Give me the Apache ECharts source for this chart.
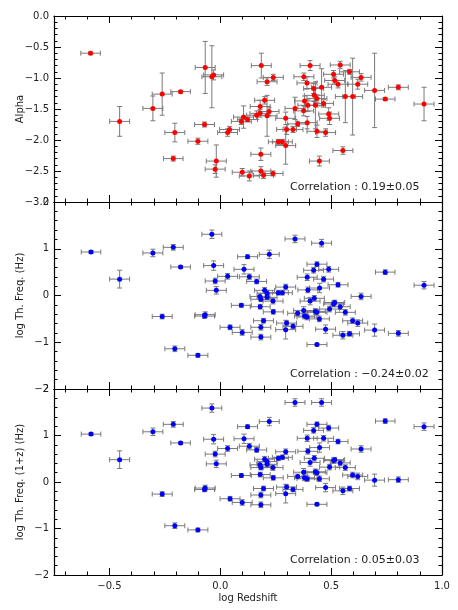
<!DOCTYPE html>
<html>
<head>
<meta charset="utf-8">
<script src="https://cdn.jsdelivr.net/npm/echarts@6/dist/echarts.min.js"></script>
<style>
    html, body { margin: 0; padding: 0; background: #fff; }
    #chart { width: 458px; height: 610px; }
</style>
</head>
<body>
<div id="chart"></div>
<script>
// log redshift of the objects in the alpha panel
const zAlpha = [-0.585, -0.454, -0.304, -0.262, -0.179, -0.205, -0.212, -0.101, -0.068, -0.071,
    -0.038, -0.030, -0.018, -0.023, 0.042, 0.033, 0.095, 0.105, 0.123, 0.099,
    0.131, 0.164, 0.180, 0.179, 0.200, 0.185, 0.211, 0.239, 0.220, 0.211,
    0.183, 0.183, 0.195, 0.238, 0.262, 0.280, 0.295, 0.295, 0.299, 0.328,
    0.337, 0.349, 0.376, 0.380, 0.377, 0.391, 0.405, 0.395, 0.392, 0.421,
    0.424, 0.436, 0.429, 0.436, 0.447, 0.457, 0.466, 0.489, 0.493, 0.475,
    0.511, 0.516, 0.531, 0.541, 0.564, 0.583, 0.553, 0.597, 0.620, 0.635,
    0.696, 0.744, 0.803, 0.919]
const alpha = [-0.60, -1.70, -1.49, -1.26, -1.22, -1.88, -2.30, -2.02, -0.83, -1.75,
    -0.98, -0.95, -2.34, -2.47, -1.83, -1.88, -1.70, -1.63, -1.67, -2.52,
    -2.58, -1.60, -1.46, -1.57, -1.36, -0.80, -1.06, -0.99, -1.54, -1.61,
    -2.23, -2.50, -2.57, -2.54, -2.03, -2.03, -2.09, -1.65, -1.83, -1.83,
    -1.49, -1.74, -1.53, -1.37, -0.98, -1.08, -0.80, -1.44, -1.72, -1.17,
    -1.28, -1.33, -1.44, -1.86, -2.34, -1.15, -1.41, -1.58, -1.65, -1.88,
    -0.94, -1.04, -1.10, -0.79, -1.30, -0.90, -2.17, -1.30, -1.10, -0.99,
    -1.20, -1.34, -1.15, -1.42]
const alphaErr = [0.02, 0.24, 0.20, 0.34, 0.02, 0.15, 0.04, 0.05, 0.42, 0.04,
    0.50, 0.08, 0.26, 0.07, 0.05, 0.06, 0.05, 0.18, 0.04, 0.06,
    0.08, 0.07, 0.10, 0.06, 0.06, 0.20, 0.06, 0.05, 0.07, 0.33,
    0.10, 0.07, 0.05, 0.04, 0.04, 0.04, 0.30, 0.10, 0.08, 0.05,
    0.18, 0.04, 0.08, 0.08, 0.06, 0.10, 0.08, 0.10, 0.10, 0.08,
    0.10, 0.06, 0.38, 0.10, 0.08, 0.30, 0.06, 0.10, 0.10, 0.06,
    0.06, 0.06, 0.06, 0.06, 0.42, 0.04, 0.06, 0.62, 0.08, 0.06,
    0.60, 0.02, 0.04, 0.27]
const zAlphaErr = [0.044, 0.045, 0.045, 0.045, 0.044, 0.045, 0.044, 0.045, 0.045, 0.045,
    0.045, 0.045, 0.045, 0.045, 0.045, 0.045, 0.045, 0.045, 0.045, 0.045,
    0.045, 0.045, 0.045, 0.045, 0.045, 0.045, 0.045, 0.045, 0.045, 0.045,
    0.045, 0.045, 0.045, 0.045, 0.045, 0.045, 0.045, 0.045, 0.045, 0.045,
    0.045, 0.045, 0.045, 0.045, 0.045, 0.045, 0.045, 0.045, 0.045, 0.045,
    0.045, 0.045, 0.045, 0.045, 0.045, 0.045, 0.045, 0.045, 0.045, 0.045,
    0.045, 0.045, 0.045, 0.045, 0.045, 0.045, 0.045, 0.045, 0.045, 0.045,
    0.045, 0.044, 0.045, 0.045]

// log redshift of the objects in the two frequency panels
const zFreq = [-0.583, -0.454, -0.304, -0.212, -0.179, -0.262, -0.205, -0.101, -0.038, -0.030,
    -0.023, -0.018, -0.068, -0.071, 0.033, 0.044, 0.099, 0.095, 0.107, 0.123,
    0.131, 0.164, 0.179, 0.183, 0.180, 0.183, 0.183, 0.195, 0.200, 0.211,
    0.211, 0.221, 0.238, 0.239, 0.262, 0.280, 0.295, 0.299, 0.295, 0.328,
    0.337, 0.349, 0.376, 0.380, 0.391, 0.392, 0.395, 0.405, 0.421, 0.424,
    0.429, 0.436, 0.436, 0.447, 0.436, 0.457, 0.448, 0.466, 0.489, 0.475,
    0.493, 0.511, 0.516, 0.531, 0.541, 0.553, 0.564, 0.583, 0.597, 0.620,
    0.635, 0.696, 0.744, 0.803, 0.919]
const zFreqErr = [0.044, 0.045, 0.045, 0.045, 0.044, 0.045, 0.045, 0.045, 0.045, 0.045,
    0.045, 0.045, 0.045, 0.045, 0.045, 0.045, 0.045, 0.045, 0.045, 0.045,
    0.045, 0.045, 0.045, 0.045, 0.045, 0.045, 0.045, 0.045, 0.045, 0.045,
    0.045, 0.045, 0.045, 0.045, 0.045, 0.045, 0.045, 0.045, 0.045, 0.045,
    0.045, 0.045, 0.045, 0.045, 0.045, 0.045, 0.045, 0.045, 0.045, 0.045,
    0.045, 0.045, 0.045, 0.045, 0.045, 0.045, 0.045, 0.045, 0.045, 0.045,
    0.045, 0.045, 0.045, 0.045, 0.045, 0.045, 0.045, 0.045, 0.045, 0.045,
    0.045, 0.045, 0.044, 0.045, 0.045]
const freq = [0.93, 0.35, 0.91, 1.03, 0.61, -0.45, -1.14, -1.28, 1.31, 0.64,
    0.31, 0.11, -0.41, -0.44, 0.41, -0.68, -0.79, -0.21, 0.56, 0.83,
    0.40, 0.30, -0.02, -0.08, -0.24, -0.68, -0.89, -0.54, 0.11, 0.05,
    -0.04, 0.88, -0.12, -0.35, 0.06, 0.06, 0.18, -0.59, -0.73, -0.66,
    1.21, -0.38, -0.32, -0.44, -0.46, 0.39, 0.12, -0.12, 0.54, -0.06,
    -0.34, 0.67, -0.36, -0.50, -1.05, 1.12, 0.16, 0.35, 0.56, -0.72,
    -0.29, -0.18, -0.15, 0.23, -0.24, -0.85, -0.36, -0.82, -0.54, -0.59,
    -0.02, -0.74, 0.50, -0.81, 0.22]
const freqZ = [1.03, 0.48, 1.08, 1.24, 0.84, -0.26, -0.94, -1.03, 1.59, 0.92,
    0.60, 0.39, -0.13, -0.16, 0.72, -0.36, -0.44, 0.14, 0.93, 1.19,
    0.77, 0.69, 0.37, 0.31, 0.16, -0.28, -0.49, -0.14, 0.49, 0.44,
    0.38, 1.30, 0.31, 0.09, 0.51, 0.53, 0.65, -0.11, -0.25, -0.16,
    1.71, 0.12, 0.21, 0.09, 0.07, 0.94, 0.66, 0.42, 1.11, 0.51,
    0.22, 1.24, 0.20, 0.07, -0.48, 1.71, 0.74, 0.94, 1.16, -0.12,
    0.32, 0.46, 0.48, 0.87, 0.41, -0.19, 0.31, -0.14, 0.15, 0.12,
    0.71, 0.04, 1.31, 0.05, 1.19]
const freqErr = [0.03, 0.19, 0.08, 0.06, 0.03, 0.05, 0.06, 0.04, 0.09, 0.10,
    0.06, 0.08, 0.06, 0.05, 0.06, 0.05, 0.06, 0.04, 0.10, 0.04,
    0.06, 0.05, 0.06, 0.05, 0.05, 0.06, 0.06, 0.05, 0.06, 0.06,
    0.05, 0.09, 0.06, 0.05, 0.05, 0.05, 0.06, 0.05, 0.20, 0.05,
    0.08, 0.05, 0.08, 0.06, 0.06, 0.07, 0.06, 0.08, 0.06, 0.06,
    0.06, 0.05, 0.06, 0.06, 0.03, 0.08, 0.10, 0.06, 0.06, 0.09,
    0.06, 0.06, 0.05, 0.05, 0.06, 0.08, 0.06, 0.05, 0.06, 0.07,
    0.07, 0.13, 0.05, 0.06, 0.08]

const xMajorTicks = [-0.5, 0.0, 0.5, 1.0]
const xMinorTicks = [-0.7, -0.6, -0.4, -0.3, -0.2, -0.1, 0.1, 0.2, 0.3, 0.4, 0.6, 0.7, 0.8, 0.9]
const correlations = ['Correlation : 0.19±0.05', 'Correlation : −0.24±0.02', 'Correlation : 0.05±0.03']

const FONT = 'DejaVu Sans'
const INK = '#222'
const fmtNum = (v, d) => (v < 0 ? '−' : '') + Math.abs(v).toFixed(d)

// panels: top px, height px
const panels = [
    { top: 16, height: 186, min: -3, max: 0, interval: 0.5, digits: 1, name: 'Alpha' },
    { top: 202, height: 187, min: -2, max: 2, interval: 1, digits: 0, name: 'log Th. Freq. (Hz)' },
    { top: 389, height: 186, min: -2, max: 2, interval: 1, digits: 0, name: 'log Th. Freq. (1+z) (Hz)' }
]

function xAxesFor(gi, last) {
    const base = {
        gridIndex: gi,
        type: 'value',
        min: -0.75,
        max: 1.0,
        splitLine: { show: false }
    }
    const axes = []
    ;['bottom', 'top'].forEach(pos => {
        axes.push(Object.assign({}, base, {
            position: pos,
            axisLine: { show: true, onZero: false, lineStyle: { color: '#000', width: 1.2 } },
            axisTick: { show: true, inside: true, length: 7, customValues: xMajorTicks, lineStyle: { color: '#000' } },
            axisLabel: {
                show: last && pos === 'bottom',
                customValues: xMajorTicks,
                formatter: v => fmtNum(v, 1),
                color: INK, fontFamily: FONT, fontSize: 10, margin: 6
            },
            name: last && pos === 'bottom' ? 'log Redshift' : '',
            nameLocation: 'middle',
            nameGap: 18,
            nameTextStyle: { color: INK, fontFamily: FONT, fontSize: 10 }
        }))
        axes.push(Object.assign({}, base, {
            position: pos,
            axisLine: { show: false, onZero: false },
            axisTick: { show: true, inside: true, length: 3.5, customValues: xMinorTicks, lineStyle: { color: '#000' } },
            axisLabel: { show: false }
        }))
    })
    return axes
}

function yAxesFor(gi, p) {
    return ['left', 'right'].map(pos => ({
        gridIndex: gi,
        type: 'value',
        position: pos,
        min: p.min,
        max: p.max,
        interval: p.interval,
        splitLine: { show: false },
        axisLine: { show: true, onZero: false, lineStyle: { color: '#000', width: 1.2 } },
        axisTick: { show: true, inside: true, length: 7, lineStyle: { color: '#000' } },
        minorTick: { show: true, splitNumber: 5, length: 3.5, lineStyle: { color: '#000' } },
        axisLabel: {
            show: pos === 'left',
            formatter: v => fmtNum(v, p.digits),
            color: INK, fontFamily: FONT, fontSize: 10, margin: 5
        },
        name: pos === 'left' ? p.name : '',
        nameLocation: 'middle',
        nameGap: 29,
        nameMoveOverlap: false,
        nameTextStyle: { color: INK, fontFamily: FONT, fontSize: 10 }
    }))
}

// error bars with small caps, drawn through the axis scales
function renderErr(params, api) {
    const x = api.value(0), y = api.value(1), xe = api.value(2), ye = api.value(3)
    const l = api.coord([x - xe, y]), r = api.coord([x + xe, y])
    const t = api.coord([x, y + ye]), b = api.coord([x, y - ye])
    const c = 2.5
    const style = { stroke: '#7a7a7a', lineWidth: 1 }
    const seg = (x1, y1, x2, y2) => ({ type: 'line', shape: { x1, y1, x2, y2 }, style })
    return {
        type: 'group',
        children: [
            seg(l[0], l[1], r[0], r[1]),
            seg(t[0], t[1], b[0], b[1]),
            seg(l[0], l[1] - c, l[0], l[1] + c),
            seg(r[0], r[1] - c, r[0], r[1] + c),
            seg(t[0] - c, t[1], t[0] + c, t[1]),
            seg(b[0] - c, b[1], b[0] + c, b[1])
        ]
    }
}

const sets = [
    { xs: zAlpha, xe: zAlphaErr, ys: alpha, ye: alphaErr, color: '#ff0000' },
    { xs: zFreq, xe: zFreqErr, ys: freq, ye: freqErr, color: '#0000ff' },
    { xs: zFreq, xe: zFreqErr, ys: freqZ, ye: freqErr, color: '#0000ff' }
]

const grid = [], xAxis = [], yAxis = [], series = [], graphic = []
panels.forEach((p, gi) => {
    grid.push({ left: 54, right: 16, top: p.top, height: p.height })
    xAxis.push(...xAxesFor(gi, gi === panels.length - 1))
    yAxis.push(...yAxesFor(gi, p))
    const s = sets[gi]
    series.push({
        type: 'custom',
        xAxisIndex: gi * 4,
        yAxisIndex: gi * 2,
        renderItem: renderErr,
        encode: { x: 0, y: 1 },
        data: s.xs.map((z, i) => [z, s.ys[i], s.xe[i], s.ye[i]]),
        silent: true,
        z: 2
    })
    series.push({
        type: 'scatter',
        xAxisIndex: gi * 4,
        yAxisIndex: gi * 2,
        symbol: 'circle',
        symbolSize: 5,
        itemStyle: { color: s.color, opacity: 1 },
        data: s.xs.map((z, i) => [z, s.ys[i]]),
        silent: true,
        z: 3
    })
    graphic.push({
        type: 'text',
        left: 290,
        top: p.top + p.height - 20,
        style: { text: correlations[gi], fill: INK, font: '11px "DejaVu Sans"' }
    })
})

const chart = echarts.init(document.getElementById('chart'))
chart.setOption({
    animation: false,
    backgroundColor: '#fff',
    grid,
    xAxis,
    yAxis,
    series,
    graphic
})
</script>
</body>
</html>
